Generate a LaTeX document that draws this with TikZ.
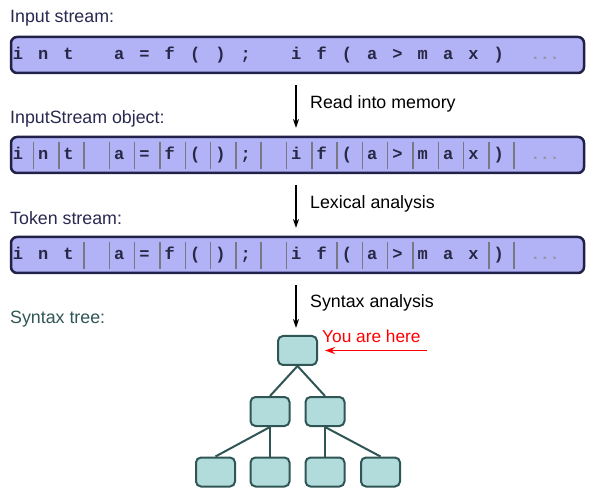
\documentclass[tikz,border=0pt]{standalone}
\usepackage{fontspec}
\setmainfont{Liberation Sans}
\newfontfamily\codefont{Liberation Mono}
\usetikzlibrary{arrows.meta}
\definecolor{barfill}{RGB}{178,178,246}
\definecolor{barline}{RGB}{32,32,72}
\definecolor{codecol}{RGB}{40,40,70}
\definecolor{lblcol}{RGB}{40,40,80}
\definecolor{treefill}{RGB}{178,220,220}
\definecolor{treeline}{RGB}{47,85,85}
\definecolor{sepcol}{RGB}{120,120,130}
\definecolor{dotcol}{RGB}{150,150,160}
\begin{document}
\begin{tikzpicture}[x=1pt,y=-1pt,
  bar/.style={draw=barline, fill=barfill, line width=2.5pt, rounded corners=6pt,
    minimum width=573pt, minimum height=36pt, inner sep=0pt},
  code/.style={font=\codefont\bfseries\fontsize{17}{17}\selectfont, text=codecol, anchor=base, inner sep=0pt},
  dots/.style={font=\codefont\bfseries\fontsize{16}{16}\selectfont, text=dotcol, anchor=base, inner sep=0pt},
  sep/.style={draw=sepcol, line width=1.5pt},
  lbl/.style={font=\fontsize{17.8}{20}\selectfont, text=lblcol, anchor=west, inner sep=0pt},
  steplbl/.style={font=\fontsize{17.8}{20}\selectfont, text=black, anchor=west, inner sep=0pt},
  flow/.style={draw=black, line width=1.5pt, -{Stealth[length=9pt,width=6pt]}},
  treebox/.style={draw=treeline, fill=treefill, line width=2pt, rounded corners=5pt,
    minimum width=39pt, minimum height=29pt, inner sep=0pt},
  treeedge/.style={draw=treeline, line width=2pt},
  here/.style={draw=red, line width=1.5pt, -{Stealth[length=10pt,width=7pt]}}
]
\useasboundingbox (0,0) rectangle (595,497);

% labels
\node[lbl] (lab1) at (10,18.5) {Input stream:};
\node[lbl] (lab2) at (10,118.5) {InputStream object:};
\node[lbl] (lab3) at (10,218.5) {Token stream:};
\node[lbl, text=treeline] (lab4) at (10,319.5) {Syntax tree:};

% bars
\node[bar] (bar1) at (297.5,55) {};
\node[bar] (bar2) at (297.5,155) {};
\node[bar] (bar3) at (297.5,255) {};

% characters
\foreach \row/\yy in {1/55,2/155,3/255}{
  \foreach \ch [count=\k from 0] in {i,n,t,{},a,=,f,{(},{)},{;},{},i,f,{(},a,>,m,a,x,{)}}{
    \node[code] (c\row-\k) at ({18+25.3*\k},{\yy+5}) {\ch};
  }
  \node[dots] (d\row) at (545,\yy+5) {...};
}

% separators, InputStream object
\foreach \k in {0,...,19}{
  \draw[sep] ({33.5+25.3*\k},142) -- ({33.5+25.3*\k},169);
}
% separators, token stream
\foreach \k in {2,3,4,5,6,7,8,9,10,12,13,14,15,18,19}{
  \draw[sep] ({33.5+25.3*\k},242) -- ({33.5+25.3*\k},269);
}

% arrows between stages
\coordinate (a1s) at (296,85);
\coordinate (a1e) at (296,128);
\coordinate (a2s) at (296,185);
\coordinate (a2e) at (296,228);
\coordinate (a3s) at (296,285);
\coordinate (a3e) at (296,328);
\draw[flow] (a1s) -- (a1e);
\draw[flow] (a2s) -- (a2e);
\draw[flow] (a3s) -- (a3e);
\node[steplbl] (s1) at (310,103.5) {Read into memory};
\node[steplbl] (s2) at (310,203.5) {Lexical analysis};
\node[steplbl] (s3) at (310,302.5) {Syntax analysis};

% tree
\node[treebox] (root) at (297.5,350.5) {};
\node[treebox] (l) at (270,411.5) {};
\node[treebox] (r) at (325,411.5) {};
\node[treebox] (ll) at (215.5,472) {};
\node[treebox] (lr) at (270,472) {};
\node[treebox] (rl) at (325,472) {};
\node[treebox] (rr) at (380.5,472) {};
\draw[treeedge] (root.south) -- (l.north);
\draw[treeedge] (root.south) -- (r.north);
\draw[treeedge] (l.south) -- (ll.north);
\draw[treeedge] (l.south) -- (lr.north);
\draw[treeedge] (r.south) -- (rl.north);
\draw[treeedge] (r.south) -- (rr.north);

% you are here
\node[font=\fontsize{17.3}{19}\selectfont, text=red, anchor=west, inner sep=0pt] (youhere) at (322,336) {You are here};
\coordinate (herestart) at (427,350.5);
\draw[here] (herestart) -- ([xshift=7pt]root.east);
\end{tikzpicture}
\end{document}
